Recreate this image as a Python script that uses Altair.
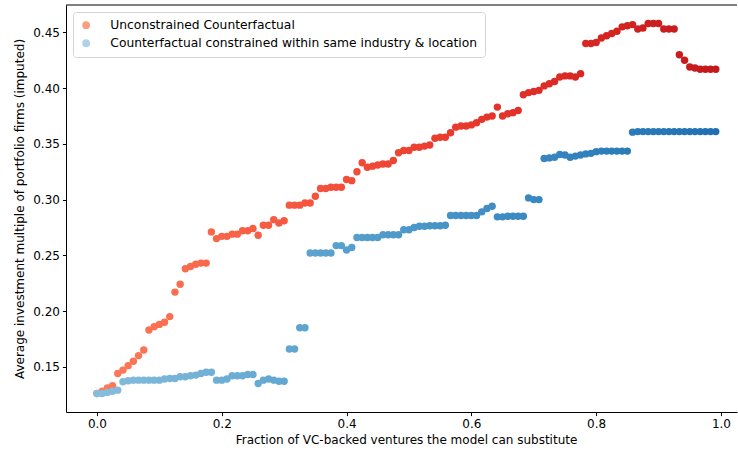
import altair as alt
import pandas as pd

# Substitution fractions on an even grid of 120 steps
n_steps = 120
fractions = [i / n_steps for i in range(n_steps)]

unconstrained = [
    0.126, 0.128, 0.131, 0.133,
    0.144, 0.147, 0.151, 0.155, 0.160, 0.165,
    0.183, 0.186, 0.188, 0.190, 0.195,
    0.217, 0.224,
    0.238, 0.240, 0.242, 0.243, 0.243,
    0.271,
    0.265, 0.267, 0.267, 0.269, 0.269, 0.272, 0.272, 0.274, 0.268, 0.277, 0.277, 0.282, 0.279, 0.281,
    0.295, 0.295, 0.295, 0.297, 0.297, 0.303,
    0.310, 0.310, 0.311, 0.311, 0.311,
    0.318, 0.317, 0.325, 0.333, 0.329, 0.330, 0.331, 0.332, 0.332, 0.335,
    0.342, 0.344, 0.344, 0.347, 0.347, 0.348, 0.349,
    0.355, 0.356, 0.356, 0.360, 0.365, 0.366, 0.366,
    0.367, 0.369, 0.372, 0.374, 0.375, 0.383, 0.375, 0.377, 0.378, 0.380,
    0.394, 0.396, 0.397, 0.398, 0.402, 0.404, 0.406, 0.410, 0.411, 0.411, 0.410, 0.413,
    0.440, 0.440, 0.441, 0.445, 0.447, 0.449, 0.451, 0.455, 0.456, 0.457,
    0.453, 0.454, 0.458, 0.458, 0.458, 0.453, 0.453, 0.453,
    0.430, 0.425, 0.419, 0.418, 0.417, 0.417, 0.417, 0.417,
]

constrained = [
    0.126, 0.126, 0.127, 0.128, 0.129,
    0.1365, 0.1375, 0.138, 0.138, 0.138, 0.138, 0.138, 0.138, 0.139, 0.1395,
    0.1395, 0.141, 0.141, 0.142, 0.1425, 0.144, 0.145, 0.145,
    0.138, 0.138, 0.139, 0.142, 0.142, 0.142, 0.143, 0.143,
    0.135, 0.138, 0.139, 0.138, 0.137, 0.137,
    0.166, 0.166, 0.185, 0.185,
    0.252, 0.252, 0.252, 0.252, 0.252, 0.2587, 0.2587, 0.2548, 0.257,
    0.266, 0.266, 0.266, 0.266, 0.266, 0.2685, 0.2685, 0.2685, 0.2685,
    0.273, 0.273, 0.275, 0.276, 0.276, 0.2765, 0.2765, 0.2765, 0.277,
    0.2857, 0.2857, 0.2857, 0.2857, 0.2857, 0.2857, 0.289, 0.292, 0.294,
    0.2845, 0.2845, 0.285, 0.285, 0.285, 0.285,
    0.3015, 0.300, 0.300,
    0.3368, 0.3374, 0.338, 0.3405, 0.340, 0.338, 0.339, 0.340, 0.341, 0.3415, 0.343,
    0.3435, 0.3435, 0.3435, 0.3435, 0.3435, 0.3435,
    0.3605, 0.361, 0.361, 0.361, 0.361, 0.361, 0.361, 0.361, 0.361,
    0.361, 0.361, 0.361, 0.361, 0.361, 0.361, 0.361, 0.361,
]

series_labels = [
    "Unconstrained Counterfactual",
    "Counterfactual constrained within same industry & location",
]
legend_colors = ["#fc9f81", "#b0d2e8"]

x_ticks = [0.0, 0.2, 0.4, 0.6, 0.8, 1.0]
y_ticks = [0.15, 0.20, 0.25, 0.30, 0.35, 0.40, 0.45]

FONT = "DejaVu Sans"
FS = 12
LEGEND_FS = 12.3
W, H = 671, 407

df_red = pd.DataFrame({"fraction": fractions, "multiple": unconstrained})
df_blue = pd.DataFrame({"fraction": fractions, "multiple": constrained})
df_legend = pd.DataFrame({"series": series_labels})

x_scale = alt.Scale(domain=[-0.0496, 1.0257], nice=False, zero=False)
y_scale = alt.Scale(domain=[0.1094, 0.4746], nice=False, zero=False)

x_axis = alt.Axis(
    title="Fraction of VC-backed ventures the model can substitute",
    values=x_ticks, format=".1f", grid=False,
    domainColor="black", tickColor="black", tickSize=3.6,
    labelPadding=3, labelFont=FONT, labelFontSize=FS, labelColor="black",
    titleFont=FONT, titleFontSize=FS, titleFontWeight="normal", titleColor="black",
    titlePadding=5, titleX=340,
)
y_axis = alt.Axis(
    title="Average investment multiple of portfolio firms (imputed)",
    values=y_ticks, format=".2f", grid=False,
    domainColor="black", tickColor="black", tickSize=3.6,
    labelPadding=3, labelFont=FONT, labelFontSize=FS, labelColor="black",
    titleFont=FONT, titleFontSize=FS, titleFontWeight="normal", titleColor="black",
    titlePadding=6,
)

red_pts = alt.Chart(df_red).mark_circle(size=55, opacity=1).encode(
    x=alt.X("fraction:Q", scale=x_scale, axis=x_axis),
    y=alt.Y("multiple:Q", scale=y_scale, axis=y_axis),
    color=alt.Color(
        "fraction:Q",
        scale=alt.Scale(scheme=alt.SchemeParams(name="reds", extent=[0.35, 0.82])),
        legend=None,
    ),
)

blue_pts = alt.Chart(df_blue).mark_circle(size=55, opacity=1).encode(
    x=alt.X("fraction:Q", scale=x_scale),
    y=alt.Y("multiple:Q", scale=y_scale),
    color=alt.Color(
        "fraction:Q",
        scale=alt.Scale(scheme=alt.SchemeParams(name="blues", extent=[0.33, 0.8])),
        legend=None,
    ),
)

# Zero-size marks that only carry the series legend
legend_layer = alt.Chart(df_legend).mark_circle(size=0).encode(
    fill=alt.Fill(
        "series:N",
        scale=alt.Scale(domain=series_labels, range=legend_colors),
        legend=alt.Legend(
            title=None, orient="top-left", offset=7, padding=7,
            strokeColor="#d4d4d4", fillColor="rgba(255,255,255,0.8)", cornerRadius=3,
            symbolType="circle", symbolSize=60, symbolStrokeWidth=0, symbolOpacity=1,
            labelFont=FONT, labelFontSize=LEGEND_FS, labelColor="black",
            labelOffset=18, rowPadding=5, labelLimit=600,
        ),
    ),
)

# Top spine of the frame
top_spine = alt.Chart(pd.DataFrame({"edge": [0]})).mark_rule(
    color="black", strokeWidth=1
).encode(x=alt.value(0), x2=alt.value(W), y=alt.value(0))

chart = (
    alt.layer(red_pts, blue_pts, legend_layer, top_spine)
    .resolve_scale(color="independent")
    .properties(
        width=W, height=H,
        autosize=alt.AutoSizeParams(type="none"),
        padding={"left": 66, "top": 5, "right": 1, "bottom": 41},
        background="white",
    )
    .configure_view(stroke=None)
)

chart.save("out.html", embed_options={"renderer": "svg", "actions": False})
